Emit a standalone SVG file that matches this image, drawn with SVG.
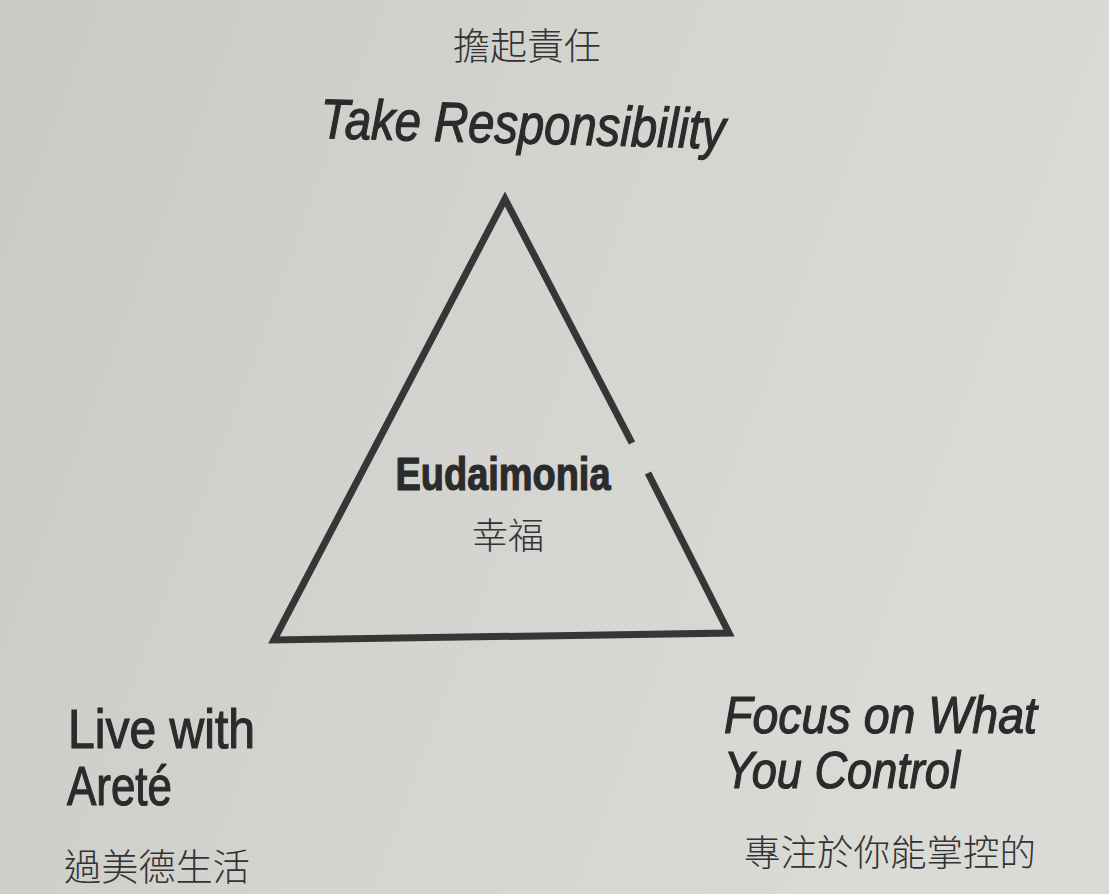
<svg xmlns="http://www.w3.org/2000/svg" width="1109" height="894" viewBox="0 0 1109 894">
  <defs>
    <linearGradient id="bg" x1="0" y1="0" x2="1" y2="0.3">
      <stop offset="0" stop-color="#c9c9c6"/>
      <stop offset="0.5" stop-color="#d3d3d0"/>
      <stop offset="1" stop-color="#dadad7"/>
    </linearGradient>
    <style>
      .hand { font-family: "Liberation Sans", "DejaVu Sans", sans-serif; fill: #2b2b2b; stroke: #2b2b2b; stroke-width: 1.2; }
      .cjk { font-family: "Noto Sans CJK TC", "Noto Sans CJK SC", sans-serif; fill: #333333; font-weight: 300; }
      .edge { fill: none; stroke: #363636; stroke-width: 7; stroke-linecap: butt; stroke-linejoin: miter; }
    </style>
  </defs>
  <rect x="0" y="0" width="1109" height="894" fill="url(#bg)"/>

  <g id="connectors">
    <polyline class="edge" points="632,443 505,199 274,640 729,633 648,473"/>
  </g>

  <g id="node-top">
    <text class="cjk" x="527" y="60" font-size="37" text-anchor="middle">擔起責任</text>
    <text class="hand" x="320" y="138" font-size="56" font-style="italic" textLength="405" lengthAdjust="spacingAndGlyphs" transform="rotate(1.5 320 138)">Take Responsibility</text>
  </g>

  <g id="node-center">
    <text class="hand" x="503" y="490" font-size="46" font-weight="bold" text-anchor="middle" textLength="215" lengthAdjust="spacingAndGlyphs">Eudaimonia</text>
    <text class="cjk" x="508" y="549" font-size="36" text-anchor="middle">幸福</text>
  </g>

  <g id="node-left">
    <text class="hand" x="68" y="748" font-size="56" textLength="187" lengthAdjust="spacingAndGlyphs">Live with</text>
    <text class="hand" x="67" y="805" font-size="56" textLength="105" lengthAdjust="spacingAndGlyphs">Areté</text>
    <text class="cjk" x="64" y="881" font-size="37" textLength="186" lengthAdjust="spacingAndGlyphs">過美德生活</text>
  </g>

  <g id="node-right">
    <text class="hand" x="724" y="733" font-size="52" font-style="italic" textLength="313" lengthAdjust="spacingAndGlyphs">Focus on What</text>
    <text class="hand" x="724" y="788" font-size="52" font-style="italic" textLength="236" lengthAdjust="spacingAndGlyphs">You Control</text>
    <text class="cjk" x="744" y="866" font-size="36" textLength="292" lengthAdjust="spacingAndGlyphs">專注於你能掌控的</text>
  </g>
</svg>
